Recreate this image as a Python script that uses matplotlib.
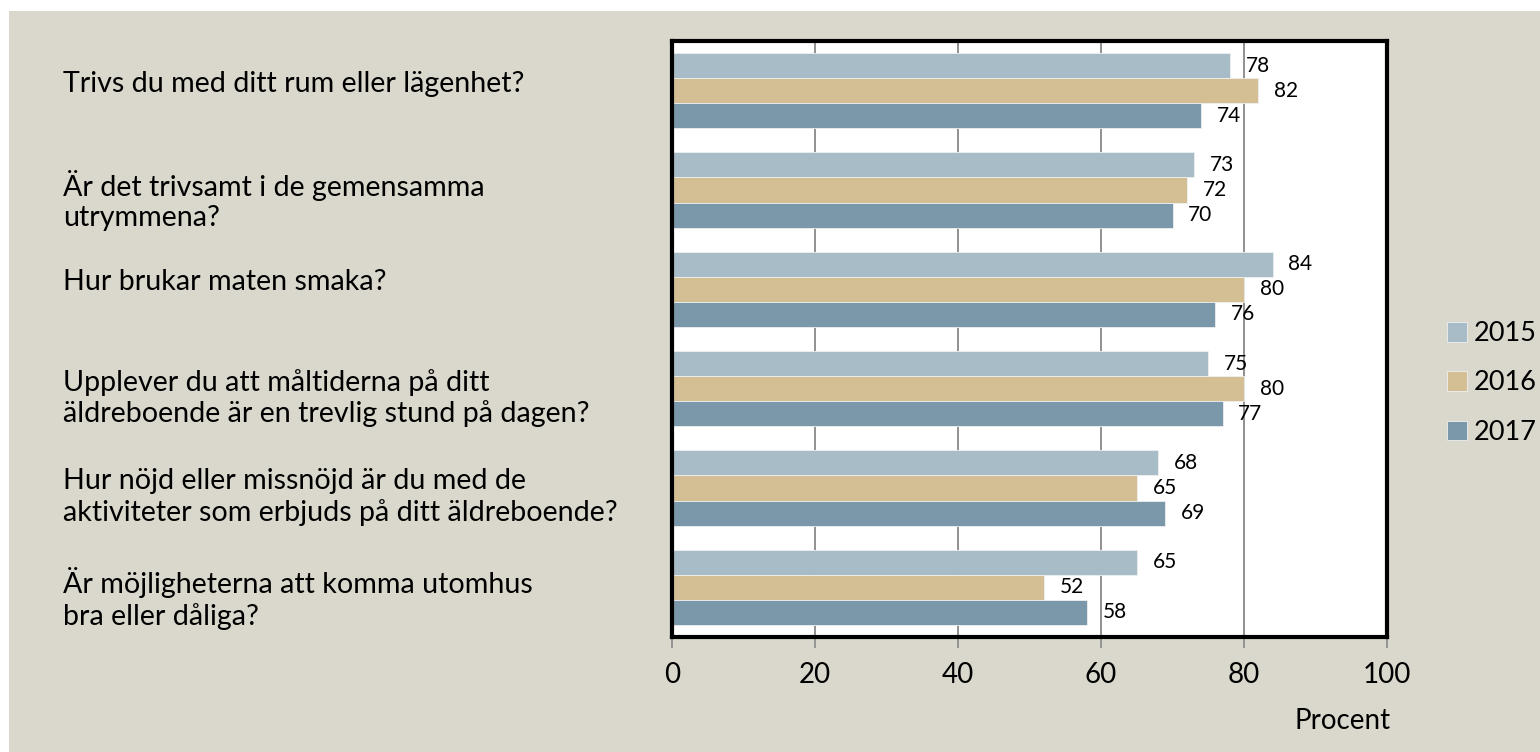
import matplotlib.pyplot as plt
import matplotlib.patches as mpatches
import matplotlib.transforms as mtransforms
import numpy as np

# Data
questions = [
    'Trivs du med ditt rum eller lägenhet?',
    'Är det trivsamt i de gemensamma\nutrymmena?',
    'Hur brukar maten smaka?',
    'Upplever du att måltiderna på ditt\näldreboende är en trevlig stund på dagen?',
    'Hur nöjd eller missnöjd är du med de\naktiviteter som erbjuds på ditt äldreboende?',
    'Är möjligheterna att komma utomhus\nbra eller dåliga?',
]
years = ['2015', '2016', '2017']
v2015 = [78, 73, 84, 75, 68, 65]
v2016 = [82, 72, 80, 80, 65, 52]
v2017 = [74, 70, 76, 77, 69, 58]
xticks = [0, 20, 40, 60, 80, 100]

colors = ['#a7bcc7', '#d4bf95', '#7b98aa']
bg = '#dad8cc'
font = 'Lato'

fig = plt.figure(figsize=(15.4, 7.52), dpi=100, facecolor='white')
fig.add_artist(mpatches.Rectangle((9/1540, 0), 1, 1 - 11/752, transform=fig.transFigure,
                                  facecolor=bg, edgecolor='none', zorder=-10))
ax = fig.add_axes([672/1540, 1 - 637/752, (1387 - 672)/1540, (637 - 41)/752])
ax.set_facecolor('white')

y = np.arange(len(questions))
h = 0.253
for k, vals in enumerate([v2015, v2016, v2017]):
    pos = y + (k - 1)*h
    ax.barh(pos, vals, height=h, color=colors[k], label=years[k], zorder=2,
            edgecolor='#eef0f0', linewidth=0.6)
    for p, v in zip(pos, vals):
        ax.text(v + 2.2, p, str(v), va='center', ha='left', fontsize=15,
                family=font, color='black', zorder=3)

ax.set_xlim(0, 100)
ax.set_ylim(len(questions) - 0.5, -0.5)
ax.set_xticks(xticks)
ax.set_xticklabels([str(t) for t in xticks], fontsize=20, family=font)
ax.set_yticks([])
ax.tick_params(axis='x', length=8, color='#888888', width=1.2, pad=10)
ax.grid(axis='x', color='#888888', linewidth=1.3, zorder=1)
for s in ax.spines.values():
    s.set_color('black')
    s.set_linewidth(3)

# question labels, left aligned in the margin
trans = mtransforms.blended_transform_factory(fig.transFigure, ax.transData)
for i, q in enumerate(questions):
    ax.text(63/1540, i - 0.2, q, transform=trans, ha='left', va='top',
            fontsize=20.6, family=font, linespacing=1.2)

fig.text(1343/1540, 1 - 721/752, 'Procent', ha='center', va='center', fontsize=20, family=font)

leg = fig.legend(loc='center left', bbox_to_anchor=(1447/1540, 1 - 383/752), frameon=False,
                 prop={'family': font, 'size': 19.5}, handlelength=0.75, handleheight=0.75,
                 handletextpad=0.25, labelspacing=0.9, borderpad=0, borderaxespad=0)

fig.savefig('out.png', dpi=100, facecolor=fig.get_facecolor())
